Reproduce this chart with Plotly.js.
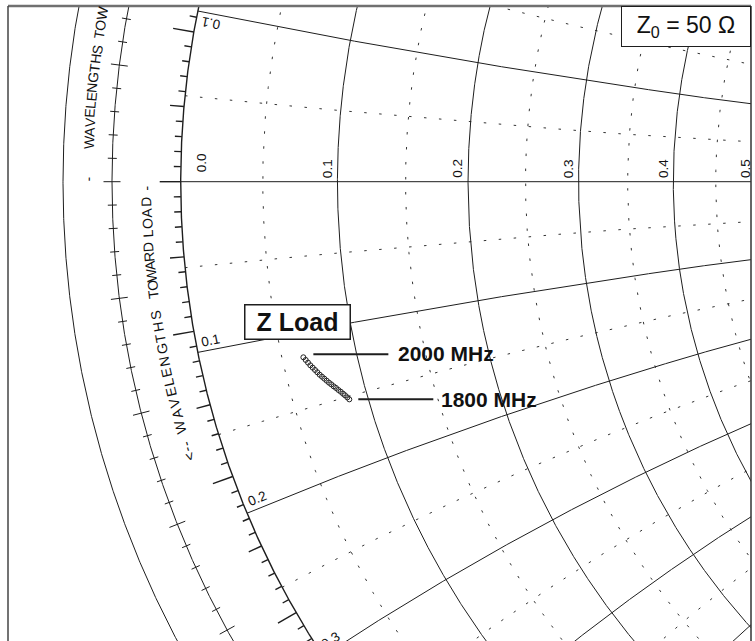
<!DOCTYPE html>
<html><head><meta charset="utf-8">
<script src="https://cdn.plot.ly/plotly-3.0.1.min.js"></script>
<style>html,body{margin:0;padding:0;background:#fff;overflow:hidden}</style>
</head><body><div id="chart" style="width:755px;height:641px"></div>
<script>
// ---------- data ----------
const freqMHz = [1800,1810,1820,1830,1840,1850,1860,1870,1880,1890,1900,1910,1920,1930,1940,1950,1960,1970,1980,1990,2000];
// load reflection coefficient (Gamma) real / imaginary parts
const gammaRe = [-0.8044,-0.8067,-0.8094,-0.8117,-0.8144,-0.8171,-0.8198,-0.8225,-0.8253,-0.8280,-0.8307,-0.8334,-0.8361,-0.8388,-0.8415,-0.8442,-0.8469,-0.8496,-0.8523,-0.8550,-0.8577];
const gammaIm = [-0.2525,-0.2502,-0.2478,-0.2459,-0.2436,-0.2416,-0.2393,-0.2374,-0.2351,-0.2331,-0.2308,-0.2285,-0.2262,-0.2239,-0.2211,-0.2184,-0.2157,-0.2130,-0.2099,-0.2068,-0.2037];
const resistanceTicks = [0.0,0.1,0.2,0.3,0.4,0.5];
const reactanceTicks = [0.1,0.2,0.3,0.4,0.5];
const solidR = [0.1,0.2,0.3,0.4,0.5,0.6,0.7,0.8,0.9,1.0];
const solidX = [0.1,0.2,0.3,0.4,0.5,0.6,0.7,0.8,0.9,1.0];
const dottedR = [0.05,0.15,0.25,0.35,0.45,0.55,0.65];
const dottedX = [0.05,0.15,0.25,0.35,0.45,0.55,0.65];
const z0Text = "Z<sub>0</sub> = 50 \u03A9";
const loadText = "<b>Z Load</b>";
const innerScale = "<-- WAVELENGTHS TOWARD LOAD -";
const outerScale = "- WAVELENGTHS TOWARD GENERATOR -->";

// ---------- geometry of the zoomed view ----------
const S = 862, CX = 1042.7, CY = 181.7;       // px per unit Gamma, px of Gamma=0
const L = 8, T = 6, W = 743, H = 635;
const xr = [(L - CX) / S, (L + W - CX) / S];
const yr = [(CY - (T + H)) / S, (CY - T) / S];
const gx = px => (px - CX) / S, gy = py => (CY - py) / S;
const FONT = "'Liberation Sans', Arial, Helvetica, sans-serif";
const INK = '#1e1e1e';
const TXT = '#111';
const ARC_FS = 14;

function z2g(r, x) { const D = (r + 1) * (r + 1) + x * x; return [(r * r + x * x - 1) / D, 2 * x / D]; }

function rCircle(r, X, Y) {
  for (let i = -3000; i <= 3000; i++) { const s = i / 3001; const x = s / (1 - Math.abs(s)); const g = z2g(r, x); X.push(g[0]); Y.push(g[1]); }
  X.push(null); Y.push(null);
}
function xArc(x, X, Y) {
  for (let i = 0; i < 3000; i++) { const t = i / 3000; const r = t / (1 - t); const g = z2g(r, x); X.push(g[0]); Y.push(g[1]); }
  X.push(null); Y.push(null);
}
function circle(R, X, Y) { for (let i = 0; i <= 2000; i++) { const a = Math.PI / 2 + Math.PI * i / 2000; X.push(R * Math.cos(a)); Y.push(R * Math.sin(a)); } X.push(null); Y.push(null); }

// dotted fine grid
const dX = [], dY = [];
dottedR.forEach(r => rCircle(r, dX, dY));
dottedX.forEach(x => { xArc(x, dX, dY); xArc(-x, dX, dY); });
// solid grid
const sX = [], sY = [];
solidR.forEach(r => rCircle(r, sX, sY));
solidX.forEach(x => { xArc(x, sX, sY); xArc(-x, sX, sY); });
sX.push(-1, 1, null); sY.push(0, 0, null);
// unit circle + degree ticks
const uX = [], uY = [];
circle(1, uX, uY);
for (let d = 95; d <= 265; d++) {
  const len = (d % 10 === 0 ? 21 : d % 5 === 0 ? 14 : 7) / S;
  const a = d * Math.PI / 180;
  uX.push(Math.cos(a), (1 + len) * Math.cos(a), null); uY.push(Math.sin(a), (1 + len) * Math.sin(a), null);
}
// wavelength scale circle + ticks
const R2 = 930.7 / S, R3 = 979.7 / S;
const wX = [], wY = [];
circle(R2, wX, wY); circle(R3, wX, wY);
for (let k = -60; k <= 60; k++) {
  const h = (k % 5 === 0 ? 8.5 : 4.5) / S;
  const a = (180 + 1.44 * k) * Math.PI / 180;
  wX.push((R2 - h) * Math.cos(a), (R2 + h) * Math.cos(a), null); wY.push((R2 - h) * Math.sin(a), (R2 + h) * Math.sin(a), null);
}

const traces = [
  {type: 'scatter', mode: 'lines', x: dX, y: dY, hoverinfo: 'skip', line: {color: '#333', width: 1, dash: '2.5px,12.5px'}},
  {type: 'scatter', mode: 'lines', x: sX, y: sY, hoverinfo: 'skip', line: {color: INK, width: 1}},
  {type: 'scatter', mode: 'lines', x: uX, y: uY, hoverinfo: 'skip', line: {color: INK, width: 1.4}},
  {type: 'scatter', mode: 'lines', x: wX, y: wY, hoverinfo: 'skip', line: {color: INK, width: 1}},
  {type: 'scatter', mode: 'markers', x: gammaRe, y: gammaIm, text: freqMHz.map(f => f + ' MHz'),
   marker: {symbol: 'circle-open', size: 5, color: '#222', line: {width: 1, color: '#222'}}}
];

const ann = [];
// resistance labels on real axis
resistanceTicks.forEach(r => {
  const px = CX + S * (r - 1) / (r + 1);
  ann.push({x: gx(px + (r === 0 ? 21 : -10)), y: gy(r === 0 ? 162.5 : 168.7), text: r.toFixed(1), textangle: -90,
    showarrow: false, xanchor: 'center', yanchor: 'middle', font: {family: FONT, size: 13.5, color: TXT}});
});
// reactance labels along unit circle
reactanceTicks.forEach(v => [v, -v].forEach(x => {
  const g = z2g(0, x); const Px = CX + S * g[0], Py = CY - S * g[1];
  let ux = CX - Px, uy = CY - Py; const n = Math.hypot(ux, uy); ux /= n; uy /= n;
  const nx = x < 0 ? uy : -uy, ny = x < 0 ? -ux : ux;
  const cx = Px + 15 * ux + 9.5 * nx, cy = Py + 15 * uy + 9.5 * ny;
  let ang = Math.atan2(uy, ux) * 180 / Math.PI; if (x > 0) ang += 180;
  ann.push({x: gx(cx), y: gy(cy), text: v.toFixed(1), textangle: ang, showarrow: false,
    xanchor: 'center', yanchor: 'middle', font: {family: FONT, size: 13.5, color: TXT}});
}));

// curved scale text
const ctx = document.createElement('canvas').getContext('2d');
ctx.font = ARC_FS + "px " + FONT;
function thetaAt(y, Rpx) { return Math.PI - Math.asin((CY - y) / Rpx); }
function arcText(str, Rpx, leadY, trailY) {
  const widths = [...str].map(c => ctx.measureText(c).width);
  const nat = widths.reduce((a, b) => a + b, 0);
  const t0 = thetaAt(leadY, Rpx);
  const sc = trailY == null ? 1 : Rpx * (t0 - thetaAt(trailY, Rpx)) / nat;
  let cum = 0;
  [...str].forEach((c, i) => {
    const th = t0 - (cum + widths[i] / 2) * sc / Rpx; cum += widths[i];
    if (c === ' ') return;
    const ta = Math.atan2(Math.cos(th), Math.sin(th)) * 180 / Math.PI;
    const txt = c === '<' ? '&lt;' : c === '>' ? '&gt;' : c;
    ann.push({x: Rpx * Math.cos(th) / S, y: Rpx * Math.sin(th) / S, text: txt, textangle: ta, showarrow: false,
      xanchor: 'center', yanchor: 'middle', font: {family: FONT, size: ARC_FS, color: TXT}});
  });
}
const Ri = 896.4, Ro = 955;
const innerWords = innerScale.split(' ');      // ["<--","WAVELENGTHS","TOWARD","LOAD","-"]
arcText(innerWords[0], Ri, 462, 441);
arcText(innerWords[1], Ri, 434, 310);
arcText(innerWords[2], Ri, 298, 243);
arcText(innerWords[3], Ri, 238, 197);
arcText(innerWords[4], Ri, 190.5, null);
const outerWords = outerScale.split(' ');      // ["-","WAVELENGTHS","TOWARD","GENERATOR","-->"]
arcText(outerWords[0], Ro, 181, null);
arcText(outerWords[1], Ro, 149, 45);
arcText(outerWords.slice(2).join(' '), Ro, 39, null);

// Z Load label, frequency call-outs
const n = freqMHz.length - 1;
const p2000 = [CX + S * gammaRe[n], CY - S * gammaIm[n]];
const p1800 = [CX + S * gammaRe[0], CY - S * gammaIm[0]];
ann.push({x: gx(p2000[0] - 6), y: gy(p2000[1] - 35), text: loadText, showarrow: false, xanchor: 'center', yanchor: 'middle',
  font: {family: FONT, size: 25, color: TXT}, bordercolor: INK, borderwidth: 1.5, borderpad: 1, bgcolor: '#fff', width: 102, height: 31});
ann.push({x: gx(p2000[0] + 93), y: gy(p2000[1] - 4), text: '<b>' + freqMHz[n] + ' MHz</b>', showarrow: false, xanchor: 'left', yanchor: 'middle',
  font: {family: FONT, size: 21, color: TXT}});
ann.push({x: gx(p1800[0] + 90), y: gy(p1800[1]), text: '<b>' + freqMHz[0] + ' MHz</b>', showarrow: false, xanchor: 'left', yanchor: 'middle',
  font: {family: FONT, size: 21, color: TXT}});
ann.push({xref: 'paper', yref: 'paper', x: (686 - L) / W, y: 1 - (26.5 - T) / H, text: z0Text, showarrow: false,
  xanchor: 'center', yanchor: 'middle', font: {family: FONT, size: 23, color: TXT},
  bordercolor: INK, borderwidth: 1, borderpad: 1, bgcolor: '#fff', width: 126, height: 37});

const shapes = [
  {type: 'line', xref: 'x', yref: 'y', x0: gx(p2000[0] + 10), x1: gx(p2000[0] + 85), y0: gy(p2000[1] - 3), y1: gy(p2000[1] - 3), line: {color: INK, width: 2}},
  {type: 'line', xref: 'x', yref: 'y', x0: gx(p1800[0] + 9), x1: gx(p1800[0] + 84), y0: gy(p1800[1]), y1: gy(p1800[1]), line: {color: INK, width: 2}},
  {type: 'line', xref: 'paper', yref: 'paper', x0: 0, x1: 1, y0: 1, y1: 1, line: {color: '#707070', width: 2.5}},
  {type: 'line', xref: 'paper', yref: 'paper', x0: 0, x1: 0, y0: 0, y1: 1, line: {color: '#444', width: 1.5}},
  {type: 'line', xref: 'paper', yref: 'paper', x0: 1, x1: 1, y0: 0, y1: 1, line: {color: '#333', width: 1.5}}
];

const layout = {
  width: 755, height: 641, margin: {l: L, r: 755 - L - W, t: T, b: 0, pad: 0},
  paper_bgcolor: '#fff', plot_bgcolor: '#fff', showlegend: false,
  xaxis: {range: xr, visible: false, fixedrange: true},
  yaxis: {range: yr, visible: false, fixedrange: true},
  annotations: ann, shapes: shapes
};
Plotly.newPlot('chart', traces, layout, {displayModeBar: false, staticPlot: true});
</script></body></html>
